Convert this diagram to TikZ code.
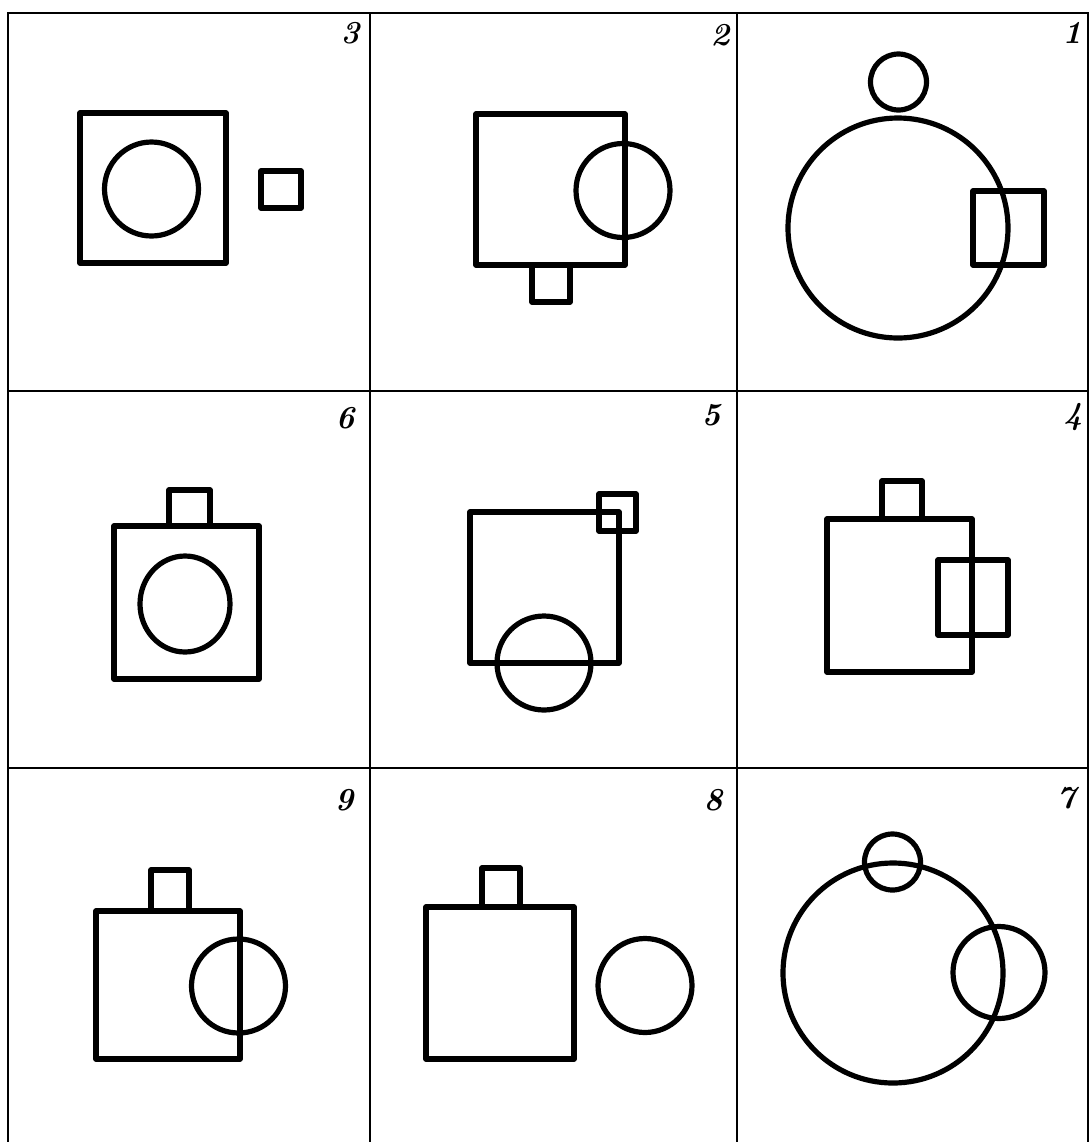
\documentclass[tikz,border=0pt]{standalone}
\begin{document}
\begin{tikzpicture}[x=0.5pt,y=-0.5pt,
  gridline/.style={line width=1.2pt},
  fig/.style={line width=2.6pt, line join=round, line cap=round},
  num/.style={font=\fontsize{16}{16}\selectfont\itshape\bfseries, inner sep=0pt}]
\useasboundingbox (0,0) rectangle (1090,1142);
% grid
\draw[gridline] (8,1142) -- (8,13) -- (1088,13) -- (1088,1142);
\draw[gridline] (370,13) -- (370,1142);
\draw[gridline] (737,13) -- (737,1142);
\draw[gridline] (8,391) -- (1088,391);
\draw[gridline] (8,768) -- (1088,768);
% labels
\node[num] (n3) at (350,33) {3};
\node[num] (n2) at (720,35) {2};
\node[num] (n1) at (1072,33) {1};
\node[num] (n6) at (345,418) {6};
\node[num] (n5) at (711,415) {5};
\node[num] (n4) at (1073,417) {4};
\node[num] (n9) at (344,800) {9};
\node[num] (n8) at (713,800) {8};
\node[num] (n7) at (1066,798) {7};
% panel 3
\draw[fig] (80,113) rectangle (226,263);
\draw[fig] (151.5,189) circle [radius=23.5pt];
\draw[fig] (261,171) rectangle (301,208);
% panel 2
\draw[fig] (476,114) rectangle (625,265);
\draw[fig] (623,190.5) circle [radius=23.5pt];
\draw[fig] (532,265) rectangle (570,302);
% panel 1
\draw[fig] (898.5,82) circle [radius=14pt];
\draw[fig] (898,228) circle [radius=55pt];
\draw[fig] (973,191) rectangle (1044,265);
% panel 6
\draw[fig] (114,526) rectangle (259,679);
\draw[fig] (169,490) rectangle (210,526);
\draw[fig] (185,604) ellipse [x radius=22.5pt, y radius=24pt];
% panel 5
\draw[fig] (470,512) rectangle (619,663);
\draw[fig] (599,494) rectangle (636,531);
\draw[fig] (544,663) circle [radius=23.5pt];
% panel 4
\draw[fig] (827,519) rectangle (972,672);
\draw[fig] (882,481) rectangle (922,519);
\draw[fig] (938,560) rectangle (1008,635);
% panel 9
\draw[fig] (96,911) rectangle (240,1059);
\draw[fig] (151,870) rectangle (189,911);
\draw[fig] (238.5,986) circle [radius=23.5pt];
% panel 8
\draw[fig] (426,907) rectangle (574,1059);
\draw[fig] (482,868) rectangle (520,907);
\draw[fig] (645,985.5) circle [radius=23.5pt];
% panel 7
\draw[fig] (892.5,862) circle [radius=14pt];
\draw[fig] (893,973) circle [radius=55pt];
\draw[fig] (999,972.5) circle [radius=23pt];
\end{tikzpicture}
\end{document}
